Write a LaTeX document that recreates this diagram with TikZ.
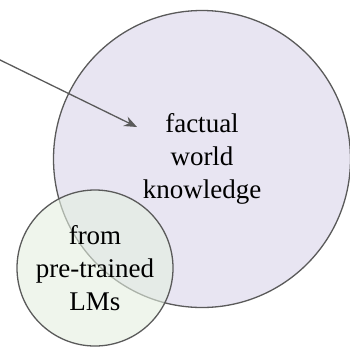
\documentclass[tikz,border=0pt]{standalone}
\usepackage{fontspec}
\setmainfont{Liberation Serif}
\usetikzlibrary{arrows.meta}
\definecolor{worldfill}{HTML}{E8E5F2}
\definecolor{lmfill}{HTML}{E4EFE0}
\definecolor{edgegray}{HTML}{5A5A5A}

\begin{document}
\begin{tikzpicture}[x=1pt,y=-1pt, font=\fontsize{27}{33}\selectfont,
  set/.style={circle,draw=edgegray,line width=1.3pt,align=center,inner sep=0pt},
  ar/.style={-{Stealth[length=4.5mm,width=3.6mm]},edgegray,line width=1.3pt}]
 \useasboundingbox (0,0) rectangle (350,346);
 \node[set, fill=worldfill, minimum size=297pt] (world) at (202,159) {factual\\ world\\ knowledge};
 \node[set, fill=lmfill, fill opacity=0.6, text opacity=1, minimum size=156pt] (lm) at (95,268) {from\\ pre-trained\\ LMs};
 \coordinate (src) at (-4,58);
 \coordinate (tip) at (137,127);
 \draw[ar] (src) -- (tip);
\end{tikzpicture}
\end{document}
